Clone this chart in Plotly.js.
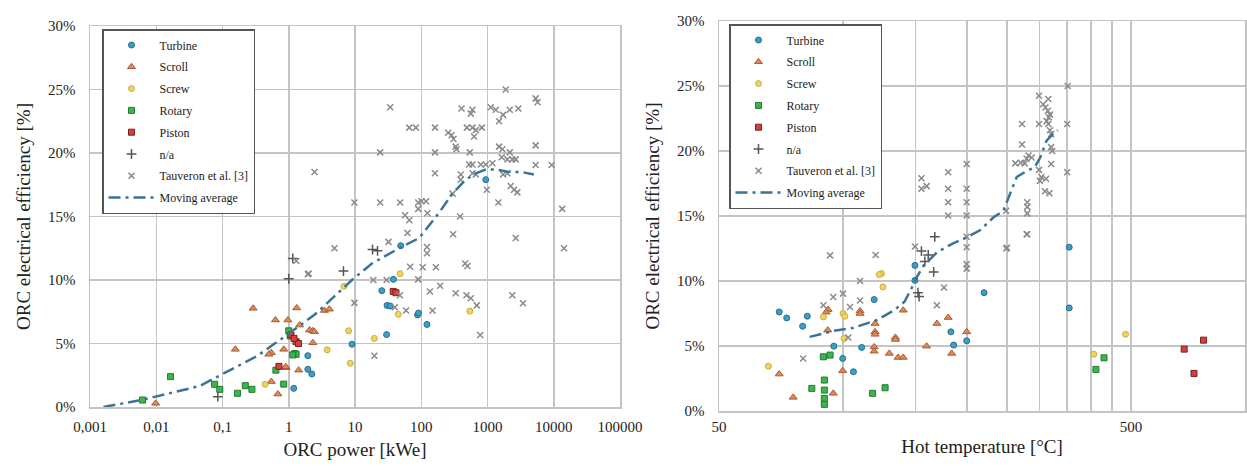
<!DOCTYPE html>
<html>
<head>
<meta charset="utf-8">
<script src="https://cdn.plot.ly/plotly-3.0.1.min.js"></script>
<style>html,body{margin:0;padding:0;background:#fff;}#chart{width:1247px;height:466px;}</style>
</head>
<body>
<div id="chart"></div>
<script>
// ---------- Left chart: efficiency vs ORC power [kWe] ----------
const turbineL_x = [1.94, 1.94, 2.23, 1.19, 9.0, 30, 30.5, 34, 25.4, 38, 88, 122, 49, 942, 91];
const turbineL_y = [4.04, 2.97, 2.6, 1.47, 4.94, 5.7, 8.0, 7.95, 9.16, 10.05, 7.25, 6.5, 12.7, 17.9, 7.4];
const scrollL_x = [0.0098, 0.156, 0.29, 0.63, 0.97, 1.32, 0.545, 0.5, 0.84, 1.46, 2.06, 2.31, 2.45, 2.31, 1.41, 0.91, 0.545, 0.686, 0.9, 3.46, 4.1];
const scrollL_y = [0.29, 4.54, 7.77, 6.85, 6.85, 7.8, 4.28, 4.15, 4.54, 6.45, 6.06, 6.0, 5.93, 5.06, 2.9, 3.1, 2.0, 1.02, 3.17, 7.6, 7.7];
const screwL_x = [0.44, 3.8, 8.0, 8.5, 19.6, 45, 48, 6.8, 540];
const screwL_y = [1.79, 4.5, 6.0, 3.44, 5.4, 7.3, 10.5, 9.5, 7.55];
const rotaryL_x = [0.0062, 0.0164, 0.076, 0.091, 0.168, 0.221, 0.278, 0.64, 0.84, 1.0, 1.23, 1.29, 1.15, 1.05];
const rotaryL_y = [0.55, 2.39, 1.79, 1.39, 1.08, 1.68, 1.39, 2.9, 1.8, 6.0, 4.2, 4.15, 4.1, 5.6];
const pistonL_x = [1.08, 1.29, 1.4, 0.71, 1.2, 37.8, 41.5];
const pistonL_y = [5.67, 5.14, 5.0, 3.2, 5.4, 9.1, 9.0];
const naL_x = [0.085, 1.0, 1.15, 6.7, 18.4, 21.9];
const naL_y = [0.81, 10.1, 11.7, 10.7, 12.4, 12.3];
const tauL_x = [1885, 34, 405, 593, 560, 1120, 1334, 1718, 2168, 2918, 1496, 5330, 5710, 66, 83, 161, 255, 287, 307, 488, 593, 667, 820, 628,
  24, 161, 331, 339, 540, 1496, 1679, 2168, 5330, 1640, 1995, 2371, 2666, 2.45, 161, 528, 593, 793, 942, 1186, 5330, 9290,
  395, 395, 593, 667, 1718, 1995, 2240, 2510, 2820, 977, 1459, 13400, 9.8, 24, 48, 90, 101, 118, 90, 57, 66, 124, 386, 297,
  62, 303, 2666, 32, 4.9, 122, 122, 68, 105, 166, 460, 498, 14260, 1.94, 9.8, 18.9, 30, 90, 47.6, 135, 193, 331, 481, 560,
  689, 2371, 3435, 40, 59, 148, 776, 19.6, 1.99, 1.3];
const tauL_y = [25.0, 23.6, 23.5, 23.4, 23.1, 23.6, 23.4, 23.0, 23.4, 23.5, 22.5, 24.3, 24.0, 22.0, 22.0, 22.0, 21.6, 21.4, 21.1, 22.0, 22.0, 21.8, 22.0, 21.3,
  20.05, 20.05, 20.5, 20.3, 20.05, 20.5, 20.3, 20.05, 20.6, 19.66, 19.5, 19.5, 19.5, 18.5, 18.4, 19.1, 19.1, 19.1, 19.1, 19.2, 19.05, 19.05,
  18.3, 17.9, 18.4, 18.3, 18.3, 18.4, 17.4, 17.1, 16.9, 17.1, 16.1, 15.6, 16.1, 16.1, 16.1, 16.1, 16.2, 16.2, 15.6, 15.1, 14.7, 15.25, 15.0, 16.8,
  13.7, 13.6, 13.3, 13.0, 12.5, 12.6, 12.1, 11.05, 11.0, 11.0, 11.3, 11.1, 12.5, 10.45, 8.2, 10.0, 10.0, 10.05, 8.8, 9.1, 9.55, 8.95, 8.8, 8.56,
  8.0, 8.8, 8.17, 7.85, 7.6, 7.6, 5.67, 4.04, 10.5, 11.5];
const avgL_x = [0.0016, 0.006, 0.015, 0.045, 0.13, 0.33, 0.9, 2.5, 9, 18, 50, 93, 186, 296, 470, 667, 940, 1330, 2100, 3300, 5000];
const avgL_y = [0.0, 0.55, 1.05, 1.65, 2.9, 4.0, 5.6, 7.3, 10.0, 11.3, 12.6, 13.3, 15.3, 16.8, 17.9, 18.4, 18.7, 18.7, 18.5, 18.5, 18.3];

// ---------- Right chart: efficiency vs hot temperature [°C] ----------
const turbineR_x = [70, 73, 81.9, 79.8, 95, 111, 99.8, 106, 119, 149.5, 149.5, 182.7, 185.6, 199.6, 220, 354, 354];
const turbineR_y = [7.62, 7.16, 7.29, 6.52, 4.99, 4.89, 4.04, 3.02, 8.57, 11.2, 10.05, 6.09, 5.07, 5.4, 9.1, 12.6, 7.93];
const scrollR_x = [70, 75.7, 94.7, 99.8, 91.8, 92, 91, 110, 110, 140, 119.6, 119.6, 119.6, 134, 134, 119, 119, 129.5, 136, 140, 159.5, 169, 180, 183.6, 199.6];
const scrollR_y = [2.84, 1.05, 1.36, 3.1, 6.22, 7.8, 7.6, 7.7, 7.5, 7.75, 6.73, 6.09, 5.9, 5.66, 5.5, 4.93, 4.6, 4.43, 4.12, 4.12, 4.99, 6.73, 7.19, 4.43, 6.09];
const screwR_x = [65.9, 89.6, 100, 101, 100.6, 124, 122.5, 125, 406, 485];
const screwR_y = [3.45, 7.24, 7.5, 7.29, 5.58, 10.57, 10.5, 9.54, 4.37, 5.9];
const rotaryR_x = [89.6, 93, 90.1, 90.1, 84, 90.1, 90.1, 118, 126.5, 430, 411];
const rotaryR_y = [4.17, 4.3, 2.38, 1.61, 1.74, 0.97, 0.51, 1.36, 1.79, 4.09, 3.2];
const pistonR_x = [673, 750, 711];
const pistonR_y = [4.76, 5.45, 2.89];
const naR_x = [155, 158, 166, 167, 152, 153, 161];
const naR_y = [12.3, 11.5, 10.7, 13.4, 9.1, 8.8, 12.0];
const tauR_x = [93, 120, 110, 94.7, 100, 110, 89.6, 104, 103, 80, 149.5, 169, 175.8, 279, 250, 199.6, 199.6, 199.6, 199.6,
  351, 299, 315, 306, 310, 314, 318, 316, 312, 272, 299, 315, 350, 318, 320, 272, 320, 322, 282, 279, 270, 262, 287, 276, 320, 350,
  299, 303, 311, 300.6, 309, 317, 280, 280, 280, 280, 249, 249, 199.6, 180, 180, 180, 180, 199.6, 199.6, 199.6, 155, 159.6, 155];
const tauR_y = [11.97, 12.0, 10.0, 8.77, 9.03, 8.5, 8.13, 8.0, 5.66, 4.04, 12.66, 8.13, 9.5, 13.6, 12.56, 13.4, 12.6, 11.3, 10.95,
  25.0, 24.25, 24.0, 23.6, 23.35, 23.1, 22.8, 22.6, 22.3, 22.08, 22.08, 22.08, 22.08, 21.6, 21.3, 20.5, 20.3, 20.0, 19.65, 19.4, 19.1, 19.05, 19.5, 19.05, 19.0, 18.36,
  18.55, 18.0, 17.86, 17.7, 16.9, 16.75, 16.06, 15.7, 15.2, 13.6, 12.5, 15.4, 19.0, 18.36, 17.1, 16.06, 15.04, 17.1, 16.06, 15.04, 17.9, 17.3, 17.1];
const avgR_x = [83, 96, 106, 121, 133, 141, 147, 151, 157, 169, 185, 201, 215, 232, 245, 254, 264, 277, 292, 301, 312, 323, 332];
const avgR_y = [5.7, 6.2, 6.4, 7.0, 7.75, 8.4, 9.5, 10.3, 11.2, 12.2, 12.9, 13.4, 13.9, 14.9, 15.4, 16.7, 18.0, 18.4, 18.75, 19.5, 20.8, 21.3, 21.6];

// ---------- Tick labels ----------
const powerTicks = [0.001, 0.01, 0.1, 1, 10, 100, 1000, 10000, 100000];
const powerTickText = ["0,001", "0,01", "0,1", "1", "10", "100", "1000", "10000", "100000"];
const tempTicks = [50, 100, 150, 200, 250, 300, 350, 400, 450, 500];
const tempTickText = ["50", "", "", "", "", "", "", "", "", "500"];
const effTicks = [0, 5, 10, 15, 20, 25, 30];
const effTickText = ["0%", "5%", "10%", "15%", "20%", "25%", "30%"];
const seriesNames = ["Turbine", "Scroll", "Screw", "Rotary", "Piston", "n/a", "Tauveron et al. [3]", "Moving average"];

// ---------- Styles ----------
const FONT = "'Liberation Serif', 'Times New Roman', serif";
const styles = [
  {mode: 'markers', marker: {symbol: 'circle', size: 6, color: '#3b9fc6', line: {color: '#2a6c8c', width: 1}}},
  {mode: 'markers', marker: {symbol: 'triangle-up', size: 7, color: '#de8a57', line: {color: '#a65c35', width: 1}}},
  {mode: 'markers', marker: {symbol: 'circle', size: 6, color: '#f1d45e', line: {color: '#c8ad45', width: 1}}},
  {mode: 'markers', marker: {symbol: 'square', size: 6, color: '#3cb54b', line: {color: '#237a35', width: 1}}},
  {mode: 'markers', marker: {symbol: 'square', size: 6, color: '#d2423a', line: {color: '#7a211c', width: 1}}},
  {mode: 'markers', marker: {symbol: 'cross-thin-open', size: 7, color: '#555', line: {color: '#555', width: 1.5}}},
  {mode: 'markers', marker: {symbol: 'x-thin-open', size: 6, color: '#8a8a8a', line: {color: '#8a8a8a', width: 1.5}}},
  {mode: 'lines', line: {color: '#3a7494', width: 2.5, dash: '12px,5px,3px,5px'}}
];

const leftData = [[turbineL_x, turbineL_y], [scrollL_x, scrollL_y], [screwL_x, screwL_y], [rotaryL_x, rotaryL_y],
  [pistonL_x, pistonL_y], [naL_x, naL_y], [tauL_x, tauL_y], [avgL_x, avgL_y]];
const rightData = [[turbineR_x, turbineR_y], [scrollR_x, scrollR_y], [screwR_x, screwR_y], [rotaryR_x, rotaryR_y],
  [pistonR_x, pistonR_y], [naR_x, naR_y], [tauR_x, tauR_y], [avgR_x, avgR_y]];

const traces = [];
function add(data, xa, ya, leg, suffix) {
  data.forEach((d, i) => {
    traces.push(Object.assign({
      type: 'scatter', x: d[0], y: d[1], name: seriesNames[i], xaxis: xa, yaxis: ya,
      legend: leg, legendgroup: suffix + i, hoverinfo: 'x+y+name'
    }, JSON.parse(JSON.stringify(styles[i]))));
  });
}
add(leftData, 'x', 'y', 'legend', 'L');
add(rightData, 'x2', 'y2', 'legend2', 'R');

const W = 1247, H = 466;
const gridCommon = {
  showgrid: true, gridcolor: '#c4c4c4', gridwidth: 1.5, zeroline: false,
  showline: true, linecolor: '#c4c4c4', linewidth: 1.5, mirror: true,
  ticks: '', tickfont: {family: FONT, size: 15, color: '#222'}, fixedrange: true
};
const titleFont = {family: FONT, size: 19, color: '#222'};
const legendCommon = {
  xanchor: 'left', yanchor: 'top', bgcolor: '#fff', bordercolor: '#555', borderwidth: 1.5,
  font: {family: FONT, size: 12, color: '#222'}, tracegroupgap: 2.8, itemwidth: 46
};

const layout = {
  width: W, height: H,
  margin: {l: 0, r: 0, t: 0, b: 0},
  paper_bgcolor: '#fff', plot_bgcolor: '#fff',
  showlegend: true,
  xaxis: Object.assign({}, gridCommon, {
    type: 'log', range: [-3, 5], domain: [90 / W, 620 / W], anchor: 'y',
    tickvals: powerTicks, ticktext: powerTickText, ticklabelstandoff: 5,
    title: {text: 'ORC power [kWe]', font: titleFont, standoff: 9}
  }),
  yaxis: Object.assign({}, gridCommon, {
    range: [0, 30], domain: [(H - 407) / H, (H - 26) / H], anchor: 'x',
    tickvals: effTicks, ticktext: effTickText, ticklabelstandoff: 10,
    title: {text: 'ORC electrical efficiency [%]', font: titleFont, standoff: 12}
  }),
  xaxis2: Object.assign({}, gridCommon, {
    type: 'log', range: [Math.log10(50), 2.9757], domain: [719 / W, 1245 / W], anchor: 'y2',
    tickvals: tempTicks, ticktext: tempTickText, ticklabelstandoff: 1,
    title: {text: 'Hot temperature [°C]', font: titleFont, standoff: 6}
  }),
  yaxis2: Object.assign({}, gridCommon, {
    range: [0, 30], domain: [(H - 411) / H, (H - 21) / H], anchor: 'x2',
    tickvals: effTicks, ticktext: effTickText, ticklabelstandoff: 10,
    title: {text: 'ORC electrical efficiency [%]', font: titleFont, standoff: 12}
  }),
  legend: Object.assign({}, legendCommon, {x: 102 / W, y: 1 - 29 / H}),
  legend2: Object.assign({}, legendCommon, {x: 729 / W, y: 1 - 24 / H})
};

Plotly.newPlot('chart', traces, layout, {displayModeBar: false, staticPlot: true});
</script>
</body>
</html>
